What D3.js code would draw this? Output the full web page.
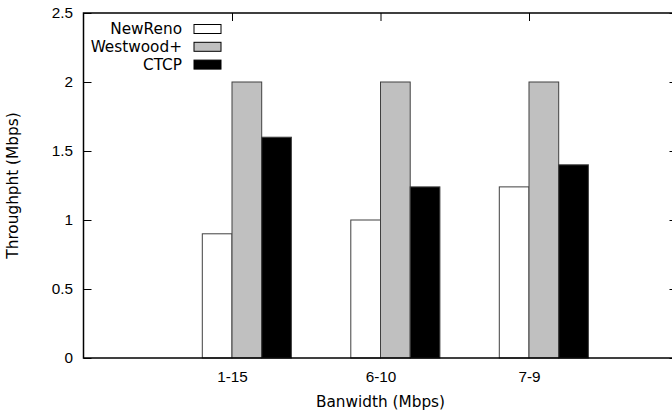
<!DOCTYPE html>
<html>
<head>
<meta charset="utf-8">
<script src="https://cdn.jsdelivr.net/npm/d3@7"></script>
<style>
  body { margin: 0; background: #ffffff; }
  svg { display: block; font-family: "DejaVu Sans", sans-serif; }
</style>
</head>
<body>
<div id="chart"></div>
<script>
// data
const groups = ["1-15", "6-10", "7-9"];
const series = ["NewReno", "Westwood+", "CTCP"];
const newReno = [0.9, 1.0, 1.24];
const westwood = [2.0, 2.0, 2.0];
const ctcp = [1.6, 1.24, 1.4];
const yTicks = [0, 0.5, 1, 1.5, 2, 2.5];
const fills = ["#ffffff", "#c0c0c0", "#000000"];

const values = [newReno, westwood, ctcp];

const width = 672;
const height = 415;
const margin = {top: 13, right: -5.5, bottom: 57, left: 83.5};
const innerW = width - margin.left - margin.right;
const innerH = height - margin.top - margin.bottom;
const fontSize = 15.3;

const svg = d3.select("#chart").append("svg")
  .attr("width", width)
  .attr("height", height);

const g = svg.append("g")
  .attr("transform", "translate(" + margin.left + "," + margin.top + ")");

// gnuplot-like histogram: groups at 0,1,2 with an empty slot either side
const x = d3.scaleLinear().domain([-1, groups.length]).range([0, innerW]);
const y = d3.scaleLinear().domain([0, 2.5]).range([innerH, 0]);
const barW = 1 / 5;

// bars
series.forEach((s, k) => {
  g.selectAll(".bar-" + k)
    .data(values[k])
    .join("rect")
    .attr("class", "bar-" + k)
    .attr("x", (d, i) => x(i + (k - 1) * barW))
    .attr("y", d => y(d))
    .attr("width", x(barW) - x(0))
    .attr("height", d => y(0) - y(d))
    .style("fill", fills[k])
    .style("stroke", "#404040")
    .style("stroke-width", 1);
});

// left axis
const yAxis = g.append("g")
  .style("font-size", fontSize + "px")
  .call(d3.axisLeft(y).tickValues(yTicks).tickFormat(d3.format("")).tickSize(-8).tickPadding(10.5));
yAxis.select(".domain").remove();
yAxis.selectAll("text").attr("fill", "#000");

// right mirror ticks
const yRight = g.append("g")
  .attr("transform", "translate(" + innerW + ",0)")
  .call(d3.axisRight(y).tickValues(yTicks).tickFormat("").tickSize(-8));
yRight.select(".domain").remove();

// bottom axis labels
const xAxis = g.append("g")
  .attr("transform", "translate(0," + innerH + ")")
  .style("font-size", fontSize + "px")
  .call(d3.axisBottom(x).tickValues(groups.map((d, i) => i)).tickFormat(i => groups[i]).tickSize(0).tickPadding(13));
xAxis.select(".domain").remove();
xAxis.selectAll("text").attr("fill", "#000");

// top mirror ticks
const xTop = g.append("g")
  .call(d3.axisTop(x).tickValues(groups.map((d, i) => i)).tickFormat("").tickSize(-8));
xTop.select(".domain").remove();

// frame
g.append("rect")
  .attr("x", 0).attr("y", 0)
  .attr("width", innerW).attr("height", innerH)
  .style("fill", "none")
  .style("stroke", "#000")
  .style("stroke-width", 1.5);

// axis titles
svg.append("text")
  .attr("x", margin.left + innerW / 2)
  .attr("y", 407)
  .attr("text-anchor", "middle")
  .style("font-size", fontSize + "px")
  .text("Banwidth (Mbps)");

svg.append("text")
  .attr("transform", "translate(18," + (margin.top + innerH / 2) + ") rotate(-90)")
  .attr("text-anchor", "middle")
  .style("font-size", fontSize + "px")
  .text("Throughpht (Mbps)");

// legend
const legend = svg.append("g")
  .attr("transform", "translate(0,29)");
series.forEach((s, k) => {
  const row = legend.append("g").attr("transform", "translate(0," + (k * 17.8) + ")");
  row.append("text")
    .attr("x", 182)
    .attr("dy", "0.35em")
    .attr("text-anchor", "end")
    .style("font-size", fontSize + "px")
    .text(s);
  row.append("rect")
    .attr("x", 194).attr("y", -4.5)
    .attr("width", 27).attr("height", 9)
    .style("fill", fills[k])
    .style("stroke", "#000")
    .style("stroke-width", 1);
});
</script>
</body>
</html>
